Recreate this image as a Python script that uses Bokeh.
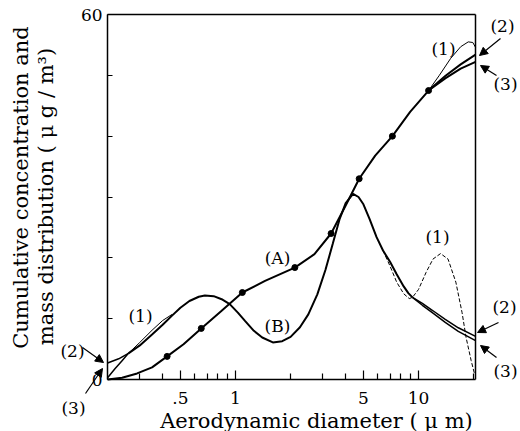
import math
from bokeh.plotting import figure
from bokeh.models import Range1d, FixedTicker, Label, Arrow, NormalHead, LogAxis, LinearAxis
from bokeh.embed import file_html
from bokeh.resources import INLINE

# ---- data ----
# Curve (A): cumulative concentration
a_x = [0.20, 0.24, 0.29, 0.35, 0.423, 0.52, 0.65, 0.84, 1.09, 1.45, 2.11, 2.7, 3.33, 4.0, 4.74, 5.8, 7.2, 9.0, 11.35]
a_y = [0.0, 0.3, 1.0, 2.0, 3.8, 5.8, 8.4, 11.3, 14.3, 16.2, 18.4, 20.6, 24.0, 28.6, 33.0, 36.8, 40.0, 44.0, 47.5]
a_dot_x = [0.423, 0.65, 1.09, 2.11, 3.33, 4.74, 7.2, 11.35]
a_dot_y = [3.8, 8.4, 14.3, 18.4, 24.0, 33.0, 40.0, 47.5]
a2_x = [11.35, 14.0, 17.0, 20.5]
a2_y = [47.5, 49.9, 51.8, 53.4]
a3_x = [11.35, 14.0, 17.0, 20.5]
a3_y = [47.5, 49.5, 51.1, 52.2]
a1_x = [11.35, 13.0, 15.0, 17.0, 18.7, 19.8, 20.5]
a1_y = [47.5, 50.0, 52.8, 54.7, 55.5, 55.4, 54.6]

# Curve (B): mass distribution
b_x = [0.26, 0.30, 0.35, 0.40, 0.45, 0.50, 0.56, 0.63, 0.68, 0.76, 0.84, 0.93, 1.03, 1.13, 1.26, 1.40, 1.60, 1.80,
       2.0, 2.25, 2.5, 2.8, 3.1, 3.4, 3.7, 4.0, 4.39, 4.7, 5.0, 5.4, 5.9, 6.4, 7.0, 7.6, 8.3, 8.8, 9.27]
b_y = [4.3, 5.6, 7.4, 9.0, 10.5, 11.8, 12.9, 13.6, 13.8, 13.7, 13.2, 12.4, 11.0, 9.6, 8.0, 6.9, 6.1, 6.3,
       7.0, 8.6, 10.7, 14.0, 18.0, 22.3, 26.3, 29.0, 30.5, 30.0, 28.8, 26.4, 23.4, 21.2, 19.3, 17.3, 15.3, 14.2, 13.5]
b2_left_x = [0.20, 0.23, 0.26]
b2_left_y = [2.7, 3.4, 4.3]
b3_left_x = [0.20, 0.22, 0.24, 0.26]
b3_left_y = [0.3, 1.8, 3.1, 4.3]
b1_left_x = [0.26, 0.30, 0.35, 0.40, 0.45]
b1_left_y = [4.3, 6.1, 8.1, 9.7, 10.7]
b2_x = [9.27, 10.5, 12.0, 14.0, 16.5, 20.5]
b2_y = [13.5, 12.5, 11.3, 9.9, 8.5, 7.1]
b3_x = [9.27, 10.5, 12.0, 14.0, 16.5, 20.5]
b3_y = [13.5, 12.2, 10.9, 9.4, 7.9, 6.4]
b1_x = [6.4, 7.0, 7.6, 8.3, 8.9, 9.27, 10.0, 11.0, 12.0, 13.2, 14.5, 16.0, 17.3, 18.2, 19.4, 20.2]
b1_y = [21.2, 18.6, 16.0, 14.1, 13.3, 13.5, 14.8, 17.6, 19.8, 20.7, 19.8, 16.0, 11.0, 6.9, 3.1, 1.0]

x_ticks = [0.5, 1, 5, 10]
x_tick_labels = {0.5: ".5", 1: "1", 5: "5", 10: "10"}
x_minor = [0.3, 0.4, 0.6, 0.7, 0.8, 0.9, 2, 3, 4, 6, 7, 8, 9, 20]
y_ticks = [0, 10, 20, 30, 40, 50, 60]
y_tick_labels = {0: "0", 10: "", 20: "", 30: "", 40: "", 50: "", 60: "60"}
X_MIN, X_MAX, Y_MIN, Y_MAX = 0.2, 20.5, 0, 60

SERIF = "DejaVu Serif"

# page-pixel geometry: x=1 at 235 px, 183 px per decade; y=0 at 379 px, 365 px for 60 units
PX_X1, PX_DEC, PX_Y0, PX_PER = 235.0, 183.0, 379.0, 365.0 / 60


def dx(px):
    return 10 ** ((px - PX_X1) / PX_DEC)


def dy(py):
    return (PX_Y0 - py) / PX_PER


p = figure(width=520, height=431, x_axis_type="log", output_backend="svg", toolbar_location=None,
           x_axis_location=None, y_axis_location=None,
           x_range=Range1d(dx(0), dx(520)), y_range=Range1d(dy(431), dy(0)),
           min_border=0, min_border_left=0, min_border_right=0, min_border_top=0, min_border_bottom=0)
p.grid.visible = False
p.background_fill_color = "white"
p.border_fill_color = "white"
p.outline_line_color = None


def style(ax):
    ax.axis_line_width = 1.5
    ax.axis_line_color = "black"
    ax.major_tick_out = 0
    ax.minor_tick_out = 0
    ax.major_tick_line_color = "black"
    ax.minor_tick_line_color = "black"
    ax.major_tick_line_width = 1.2
    ax.minor_tick_line_width = 1.2
    ax.major_label_text_font = SERIF
    ax.major_label_text_font_size = "17px"
    ax.major_label_text_color = "black"


xb = LogAxis(fixed_location=Y_MIN, bounds=(X_MIN, X_MAX),
             ticker=FixedTicker(ticks=x_ticks, minor_ticks=x_minor),
             major_label_overrides=x_tick_labels)
style(xb)
xb.major_tick_in = 9
xb.minor_tick_in = 6
xb.major_label_standoff = 12
p.add_layout(xb, "below")

yl = LinearAxis(fixed_location=X_MIN, bounds=(Y_MIN, Y_MAX),
                ticker=FixedTicker(ticks=y_ticks, minor_ticks=[]),
                major_label_overrides=y_tick_labels)
style(yl)
yl.major_tick_in = 5
yl.major_label_standoff = 5
p.add_layout(yl, "left")

# top and right edges of the box
xt = LogAxis(fixed_location=Y_MAX, bounds=(X_MIN, X_MAX), ticker=FixedTicker(ticks=[], minor_ticks=[]),
             major_label_text_font_size="0px")
style(xt)
p.add_layout(xt, "above")
yr = LinearAxis(fixed_location=X_MAX, bounds=(Y_MIN, Y_MAX), ticker=FixedTicker(ticks=[], minor_ticks=[]),
                major_label_text_font_size="0px")
style(yr)
p.add_layout(yr, "right")

# lines
main = dict(line_color="black", line_width=2)
thin = dict(line_color="black", line_width=1, line_dash="4 2")
p.line(a_x, a_y, **main)
p.line(a2_x, a2_y, **main)
p.line(a3_x, a3_y, **main)
p.line(a1_x, a1_y, line_color="black", line_width=1)
p.scatter(a_dot_x, a_dot_y, size=6, color="black")

p.line(b_x, b_y, **main)
p.line(b2_left_x, b2_left_y, line_color="black", line_width=1.5)
p.line(b3_left_x, b3_left_y, line_color="black", line_width=1.5)
p.line(b1_left_x, b1_left_y, line_color="black", line_width=1)
p.line(b2_x, b2_y, line_color="black", line_width=1.5)
p.line(b3_x, b3_y, line_color="black", line_width=1.5)
p.line(b1_x, b1_y, **thin)

# annotation labels (page-pixel centres)
notes = [("(1)", 443, 48), ("(2)", 502, 25), ("(3)", 505, 83),
         ("(1)", 437, 236), ("(2)", 504, 306), ("(3)", 505, 370),
         ("(A)", 277, 257), ("(B)", 277, 325), ("(1)", 140, 315),
         ("(2)", 72, 350), ("(3)", 73, 407)]
for t, px, py in notes:
    p.add_layout(Label(x=dx(px), y=dy(py), text=t, text_font=SERIF, text_font_size="17px",
                       text_align="center", text_baseline="middle", text_color="black"))

arrows = [(500, 38, 479, 55), (496, 75, 480, 65), (498, 322, 477, 332), (496, 357, 480, 345),
          (82, 347, 103, 362), (85, 393, 102, 368)]
for x0, y0, x1, y1 in arrows:
    p.add_layout(Arrow(x_start=dx(x0), y_start=dy(y0), x_end=dx(x1), y_end=dy(y1), line_width=1.2,
                       end=NormalHead(size=8, fill_color="black", line_color="black")))

# axis titles
p.add_layout(Label(x=dx(316), y=dy(420), text="Aerodynamic diameter ( μ m)",
                   text_font=SERIF, text_font_size="21px", text_align="center", text_baseline="middle",
                   text_color="black"))
p.add_layout(Label(x=dx(20), y=dy(187), text="Cumulative concentration and",
                   text_font=SERIF, text_font_size="21px", angle=math.pi / 2, text_align="center",
                   text_baseline="middle", text_color="black"))
p.add_layout(Label(x=dx(45), y=dy(196), text="mass distribution ( μ g / m³)",
                   text_font=SERIF, text_font_size="21px", angle=math.pi / 2, text_align="center",
                   text_baseline="middle", text_color="black"))

open("out.html", "w").write(file_html(p, INLINE))
